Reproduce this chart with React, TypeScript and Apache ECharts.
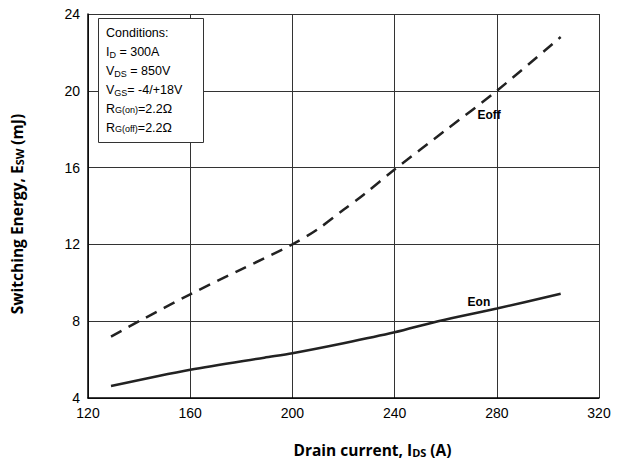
import React, { useEffect, useRef } from "react";
import * as echarts from "echarts";

const xTicks = { min: 120, max: 320, interval: 40 };
const yTicks = { min: 4, max: 24, interval: 4 };

const eoffCurrent = [129, 140, 160, 180, 200, 210, 220, 228, 240, 260, 280, 305];
const eoffEnergy = [7.2, 8.0, 9.4, 10.7, 12.0, 12.8, 13.8, 14.6, 15.9, 17.95, 20.0, 22.8];

const eonCurrent = [129, 160, 189, 200, 220, 240, 257, 280, 305];
const eonEnergy = [4.62, 5.47, 6.1, 6.33, 6.85, 7.42, 8.0, 8.66, 9.43];

const eoffLabel = { x: 277, y: 18.75, text: "Eoff" };
const eonLabel = { x: 273, y: 9.0, text: "Eon" };

const conditionLines = [
  "{n|Conditions:}",
  "{n|I}{sub|D}{n| = 300A}",
  "{n|V}{sub|DS}{n| = 850V}",
  "{n|V}{sub|GS}{n|= -4/+18V}",
  "{n|R}{sm|G(on)}{n|=2.2Ω}",
  "{n|R}{sm|G(off)}{n|=2.2Ω}",
];

export default function App() {
  const ref = useRef<HTMLDivElement>(null);
  useEffect(() => {
    if (!ref.current) return;
    const chart = echarts.init(ref.current, null, { renderer: "svg" });
    const font = "Arial, 'Liberation Sans', sans-serif";
    const titleFont = "'Open Sans', Lato, sans-serif";
    const toPairs = (xs: number[], ys: number[]) => xs.map((x, i) => [x, ys[i]]);
    const markLabel = {
      show: true,
      position: "inside",
      fontFamily: font,
      fontWeight: "bold",
      fontSize: 12,
      color: "#000",
    };
    const titleStyle = {
      fontFamily: titleFont,
      fontWeight: "bold",
      fontSize: 15.5,
      color: "#000",
      rich: {
        sub: { fontFamily: titleFont, fontWeight: "bold", fontSize: 11, color: "#000", padding: [4, 0, 0, 0] },
      },
    };
    chart.setOption({
      animation: false,
      backgroundColor: "#ffffff",
      grid: { left: 88, right: 42, top: 14, bottom: 64 },
      xAxis: {
        type: "value",
        min: xTicks.min,
        max: xTicks.max,
        interval: xTicks.interval,
        name: "Drain current, I{sub|DS} (A)",
        nameLocation: "middle",
        nameGap: 44,
        nameTextStyle: { ...titleStyle, padding: [0, 0, 0, 58] },
        axisLine: { show: true, lineStyle: { color: "#000", width: 1.5 } },
        axisTick: { show: false },
        axisLabel: { fontFamily: font, fontSize: 14, color: "#000", margin: 8 },
        splitLine: { show: true, lineStyle: { color: "#333", width: 1 } },
      },
      yAxis: {
        type: "value",
        min: yTicks.min,
        max: yTicks.max,
        interval: yTicks.interval,
        name: "Switching Energy, E{sub|SW} (mJ)",
        nameLocation: "middle",
        nameGap: 63,
        nameTextStyle: { ...titleStyle, padding: [0, 16, 0, 0] },
        axisLine: { show: true, lineStyle: { color: "#000", width: 1.5 } },
        axisTick: { show: false },
        axisLabel: { fontFamily: font, fontSize: 14, color: "#000", margin: 8 },
        splitLine: { show: true, lineStyle: { color: "#333", width: 1 } },
      },
      series: [
        {
          name: "Eoff",
          type: "line",
          data: toPairs(eoffCurrent, eoffEnergy),
          smooth: 0.3,
          showSymbol: false,
          lineStyle: { color: "#222", width: 2.5, type: [12, 8] },
          z: 3,
          markPoint: {
            symbol: "circle",
            symbolSize: 0,
            label: markLabel,
            data: [{ coord: [eoffLabel.x, eoffLabel.y], value: eoffLabel.text, label: { formatter: eoffLabel.text } }],
          },
        },
        {
          name: "Eon",
          type: "line",
          data: toPairs(eonCurrent, eonEnergy),
          smooth: 0.3,
          showSymbol: false,
          lineStyle: { color: "#222", width: 2.5 },
          z: 3,
          markPoint: {
            symbol: "circle",
            symbolSize: 0,
            label: markLabel,
            data: [{ coord: [eonLabel.x, eonLabel.y], value: eonLabel.text, label: { formatter: eonLabel.text } }],
          },
        },
      ],
      graphic: [
        {
          type: "rect",
          left: 98,
          top: 18,
          z: 100,
          shape: { x: 0, y: 0, width: 105, height: 124 },
          style: { fill: "#ffffff", stroke: "#333", lineWidth: 1 },
        },
        {
          type: "text",
          left: 106,
          top: 23,
          z: 101,
          style: {
            text: conditionLines.join("\n"),
            fontFamily: font,
            fontSize: 12.5,
            lineHeight: 19,
            fill: "#000",
            rich: {
              n: { fontFamily: font, fontSize: 12.5, lineHeight: 19, fill: "#000" },
              sub: { fontFamily: font, fontSize: 9, lineHeight: 19, fill: "#000", padding: [7, 0, 0, 0] },
              sm: { fontFamily: font, fontSize: 9, lineHeight: 19, fill: "#000", padding: [3, 0, 0, 0] },
            },
          },
        },
      ],
    });
    return () => chart.dispose();
  }, []);
  return <div ref={ref} style={{ position: "absolute", left: 0, top: 0, width: 641, height: 463 }} />;
}
